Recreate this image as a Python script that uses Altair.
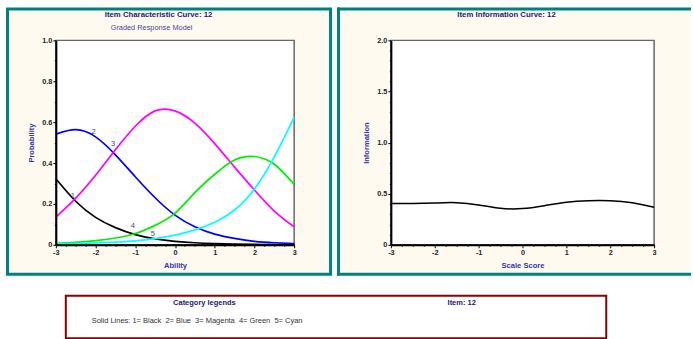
import altair as alt
import pandas as pd

# Ability grid at which the curves are tabulated
theta = [-3.0, -2.5, -2.0, -1.5, -1.0, -0.5, 0.0, 0.5, 1.0, 1.5, 2.0, 2.5, 3.0]

# Category response probabilities for item 12 (graded response model)
prob_cat1 = [0.323, 0.213, 0.134, 0.084, 0.050, 0.029, 0.017, 0.010, 0.006, 0.0035, 0.002, 0.0012, 0.0007]
prob_cat2 = [0.541, 0.563, 0.528, 0.440, 0.333, 0.230, 0.145, 0.088, 0.052, 0.031, 0.017, 0.010, 0.006]
prob_cat3 = [0.135, 0.228, 0.340, 0.465, 0.580, 0.655, 0.655, 0.595, 0.495, 0.380, 0.268, 0.165, 0.088]
prob_cat4 = [0.007, 0.012, 0.020, 0.033, 0.055, 0.095, 0.155, 0.255, 0.345, 0.415, 0.432, 0.394, 0.295]
prob_cat5 = [0.004, 0.006, 0.009, 0.013, 0.019, 0.030, 0.047, 0.073, 0.110, 0.170, 0.273, 0.430, 0.625]

# Item information over the same grid
information = [0.403, 0.404, 0.409, 0.412, 0.390, 0.357, 0.354, 0.383, 0.416, 0.432, 0.432, 0.412, 0.367]

categories = ["1", "2", "3", "4", "5"]
category_colors = ["#000000", "#0000ff", "#ff00ff", "#00ee00", "#00ffff"]

# Where each category number is written next to its curve
label_theta = [-2.57, -2.05, -1.56, -1.06, -0.56]
label_prob = [0.240, 0.553, 0.494, 0.090, 0.052]

# Axis tick positions (minor and major)
x_ticks = [-3 + 0.25 * i for i in range(25)]
prob_ticks = [round(0.1 * i, 1) for i in range(11)]
info_ticks = [round(0.1 * i, 1) for i in range(21)]

NB = "\u00a0"
icc_title = "Item Characteristic Curve: 12"
icc_subtitle = "Graded Response Model"
info_title = "Item Information Curve: 12"
legend_heading = "Category legends"
legend_item = "Item: 12"
legend_text = f"Solid Lines: 1= Black{NB}{NB}2= Blue{NB}{NB}3= Magenta{NB}{NB}4= Green{NB}{NB}5= Cyan"

FONT = "Liberation Sans"
NAVY = "#1a1a73"
AXIS_BLUE = "#3535a5"
TEAL = "#008080"
CREAM = "#fffaf0"
DARK_RED = "#8b0000"

W1, W2, H = 239, 264, 205

prob_cols = [prob_cat1, prob_cat2, prob_cat3, prob_cat4, prob_cat5]
icc_df = pd.DataFrame(
    [
        {"theta": t, "prob": p, "category": c}
        for c, col in zip(categories, prob_cols)
        for t, p in zip(theta, col)
    ]
)
label_df = pd.DataFrame({"theta": label_theta, "prob": label_prob, "category": categories})
info_df = pd.DataFrame({"theta": theta, "info": information})
one = pd.DataFrame({"k": [0]})


def tick_axis(values, major_step, integer_labels, title, title_pad):
    k = round(1 / major_step)
    test = f"abs(datum.value*{k} - round(datum.value*{k})) < 1e-6"
    if integer_labels:
        label = f"{test} ? '' + datum.value : ''"
    else:
        label = f"{test} ? (datum.value == 0 ? '0' : format(datum.value, '.1f')) : ''"
    return alt.Axis(
        values=values,
        labelExpr=label,
        tickSize={"condition": {"test": test, "value": 3}, "value": 1.5},
        tickColor="black",
        tickWidth=1,
        domainColor="black",
        domainWidth=2,
        grid=False,
        labelFont=FONT,
        labelFontSize=7.3,
        labelFontWeight="bold",
        labelColor="#222222",
        labelPadding=1,
        labelOverlap=False,
        labelFlush=False,
        title=title,
        titleFont=FONT,
        titleFontSize=7.6,
        titleFontWeight="bold",
        titleColor=AXIS_BLUE,
        titlePadding=title_pad,
        zindex=1,
    )


def text_layer(s, x, y, size, color, weight="normal", align="center"):
    return (
        alt.Chart(pd.DataFrame({"t": [s]}))
        .mark_text(font=FONT, fontSize=size, fontWeight=weight, color=color,
                   align=align, baseline="middle")
        .encode(text="t:N", x=alt.value(x), y=alt.value(y))
    )


# ---------------- left panel: category response curves ----------------
x_left = alt.X("theta:Q", scale=alt.Scale(domain=[-3, 3], nice=False, zero=False),
               axis=tick_axis(x_ticks, 1, True, "Ability", 5))
y_left = alt.Y("prob:Q", scale=alt.Scale(domain=[0, 1], nice=False, zero=False),
               axis=tick_axis(prob_ticks, 0.2, False, "Probability", 6))

left_frame = alt.Chart(one).mark_rect(fill=CREAM, stroke=TEAL, strokeWidth=3).encode(
    x=alt.value(-48.5), x2=alt.value(275.5), y=alt.value(-31.5), y2=alt.value(234.5)
)
legend_box = alt.Chart(one).mark_rect(fill="white", stroke=DARK_RED, strokeWidth=2).encode(
    x=alt.value(10), x2=alt.value(552), y=alt.value(256), y2=alt.value(298.7)
)
left_plot_bg = alt.Chart(one).mark_rect(fill="white", stroke="#666666", strokeWidth=1.5).encode(
    x=alt.value(0), x2=alt.value(W1), y=alt.value(0), y2=alt.value(H)
)
icc_lines = alt.Chart(icc_df).mark_line(interpolate="natural", strokeWidth=1.7).encode(
    x=x_left,
    y=y_left,
    color=alt.Color("category:N", scale=alt.Scale(domain=categories, range=category_colors), legend=None),
)
icc_labels = alt.Chart(label_df).mark_text(font=FONT, fontSize=7.5, color="#4040a8").encode(
    x=x_left, y=y_left, text="category:N"
)

left = alt.layer(
    left_frame,
    legend_box,
    left_plot_bg,
    icc_lines,
    icc_labels,
    text_layer(icc_title, 103, -25, 7.8, NAVY, "bold"),
    text_layer(icc_subtitle, 96, -12, 7.4, "#4545a0"),
    text_layer(legend_heading, 149, 263, 7.5, NAVY, "bold"),
    text_layer(legend_item, 407, 263, 7.5, NAVY, "bold"),
    text_layer(legend_text, 36, 281, 7.5, "#333333", "normal", "left"),
).properties(width=W1, height=H)

# ---------------- right panel: item information ----------------
x_right = alt.X("theta:Q", scale=alt.Scale(domain=[-3, 3], nice=False, zero=False),
                axis=tick_axis(x_ticks, 1, True, "Scale Score", 5))
y_right = alt.Y("info:Q", scale=alt.Scale(domain=[0, 2], nice=False, zero=False),
                axis=tick_axis(info_ticks, 0.5, False, "Information", 6))

right_fill = alt.Chart(one).mark_rect(fill=CREAM).encode(
    x=alt.value(-54), x2=alt.value(301), y=alt.value(-33), y2=alt.value(236)
)
right_top = alt.Chart(one).mark_rule(color=TEAL, strokeWidth=3).encode(
    x=alt.value(-54), x2=alt.value(301), y=alt.value(-31.5)
)
right_bottom = alt.Chart(one).mark_rule(color=TEAL, strokeWidth=3).encode(
    x=alt.value(-54), x2=alt.value(301), y=alt.value(234.5)
)
right_left = alt.Chart(one).mark_rule(color=TEAL, strokeWidth=3).encode(
    x=alt.value(-52.5), y=alt.value(-33), y2=alt.value(236)
)
right_plot_bg = alt.Chart(one).mark_rect(fill="white", stroke="#666666", strokeWidth=1.5).encode(
    x=alt.value(0), x2=alt.value(W2), y=alt.value(0), y2=alt.value(H)
)
info_line = alt.Chart(info_df).mark_line(interpolate="natural", strokeWidth=1.5, color="black").encode(
    x=x_right, y=y_right
)

right = alt.layer(
    right_fill,
    right_top,
    right_bottom,
    right_left,
    right_plot_bg,
    info_line,
    text_layer(info_title, 116, -25, 7.8, NAVY, "bold"),
).properties(width=W2, height=H)

chart = (
    alt.hconcat(left, right, spacing=97, bounds="flush")
    .properties(padding={"left": 6, "top": 5, "right": 0, "bottom": 0}, background="white")
    .configure_view(stroke=None)
)

chart.save("out.html", embed_options={"renderer": "svg", "actions": False})
